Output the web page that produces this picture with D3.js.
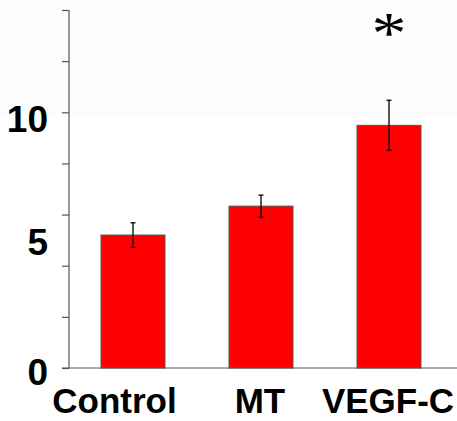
<!DOCTYPE html>
<html>
<head>
<meta charset="utf-8">
<script src="https://cdn.jsdelivr.net/npm/d3@7"></script>
<style>
  html, body { margin: 0; padding: 0; background: #fff; }
  svg { display: block; }
</style>
</head>
<body>
<script>
// ---- data ----
const categories = ["Control", "MT", "VEGF-C"];
const means      = [5.2, 6.33, 9.49];
const errors     = [0.48, 0.43, 0.98];
const tickValues = [0, 2, 4, 6, 8, 10, 12, 14];
const tickLabels = ["0", "5", "10"];
const tickLabelValues = [0, 5, 10];
const significance = ["", "", "*"];

// ---- layout ----
const W = 457, H = 421;
const svg = d3.select("body").append("svg").attr("width", W).attr("height", H);

const y = d3.scaleLinear().domain([0, 14]).range([368, 10]);
const x = d3.scaleBand().domain(categories).range([69, 453])
  .paddingInner(0.5).paddingOuter(0.25);

// very faint background band at top
svg.append("rect").attr("x", 0).attr("y", 0).attr("width", W).attr("height", 116)
  .attr("fill", "#fcfcfc");

// bars
svg.append("g").selectAll("rect").data(categories).join("rect")
  .attr("x", d => x(d))
  .attr("y", (d, i) => y(means[i]))
  .attr("width", x.bandwidth())
  .attr("height", (d, i) => y(0) - y(means[i]))
  .attr("fill", "#ff0000")
  .attr("stroke", "#555")
  .attr("stroke-width", 1);

// error bars
const eb = svg.append("g").attr("stroke", "#111").attr("stroke-width", 1.4);
categories.forEach((c, i) => {
  const cx = x(c) + x.bandwidth() / 2;
  const top = y(means[i] + errors[i]), bot = y(means[i] - errors[i]);
  eb.append("line").attr("x1", cx).attr("x2", cx).attr("y1", top).attr("y2", bot);
  eb.append("line").attr("x1", cx - 2.5).attr("x2", cx + 2.5).attr("y1", top).attr("y2", top);
  eb.append("line").attr("x1", cx - 2.5).attr("x2", cx + 2.5).attr("y1", bot).attr("y2", bot);
});

// y axis
const yAxis = d3.axisLeft(y).tickValues(tickValues).tickSize(7).tickFormat("");
const ga = svg.append("g").attr("transform", "translate(69,0)").call(yAxis);
ga.selectAll("path,line").attr("stroke", "#555").attr("stroke-width", 1.2);
ga.select(".domain").attr("d", `M0,${y(14)}V${y(0)}`);

// baseline
svg.append("line").attr("x1", 62).attr("x2", W).attr("y1", y(0)).attr("y2", y(0))
  .attr("stroke", "#555").attr("stroke-width", 1.2);

// y tick labels (placed as in original figure)
const labelDy = [17, 15, 20];
svg.append("g").selectAll("text").data(tickLabels).join("text")
  .attr("x", 48)
  .attr("y", (d, i) => y(tickLabelValues[i]) + labelDy[i])
  .attr("text-anchor", "end")
  .attr("font-family", "Liberation Sans, Arial, sans-serif")
  .attr("font-weight", "bold")
  .attr("font-size", 37)
  .attr("fill", "#000")
  .text(d => d);

// category labels
const catDx = [-18.5, -1, -1];
svg.append("g").selectAll("text").data(categories).join("text")
  .attr("x", (d, i) => x(d) + x.bandwidth() / 2 + catDx[i])
  .attr("y", 413)
  .attr("text-anchor", "middle")
  .attr("font-family", "Liberation Sans, Arial, sans-serif")
  .attr("font-weight", "bold")
  .attr("font-size", 35)
  .attr("fill", "#000")
  .text(d => d);

// significance marker
svg.append("g").selectAll("text").data(categories.filter((d, i) => significance[i])).join("text")
  .attr("x", d => x(d) + x.bandwidth() / 2)
  .attr("y", 53)
  .attr("text-anchor", "middle")
  .attr("font-family", "Liberation Serif, Times New Roman, serif")
  .attr("font-size", 59)
  .attr("textLength", 35)
  .attr("lengthAdjust", "spacingAndGlyphs")
  .attr("fill", "#000")
  .text(d => significance[categories.indexOf(d)]);
</script>
</body>
</html>
